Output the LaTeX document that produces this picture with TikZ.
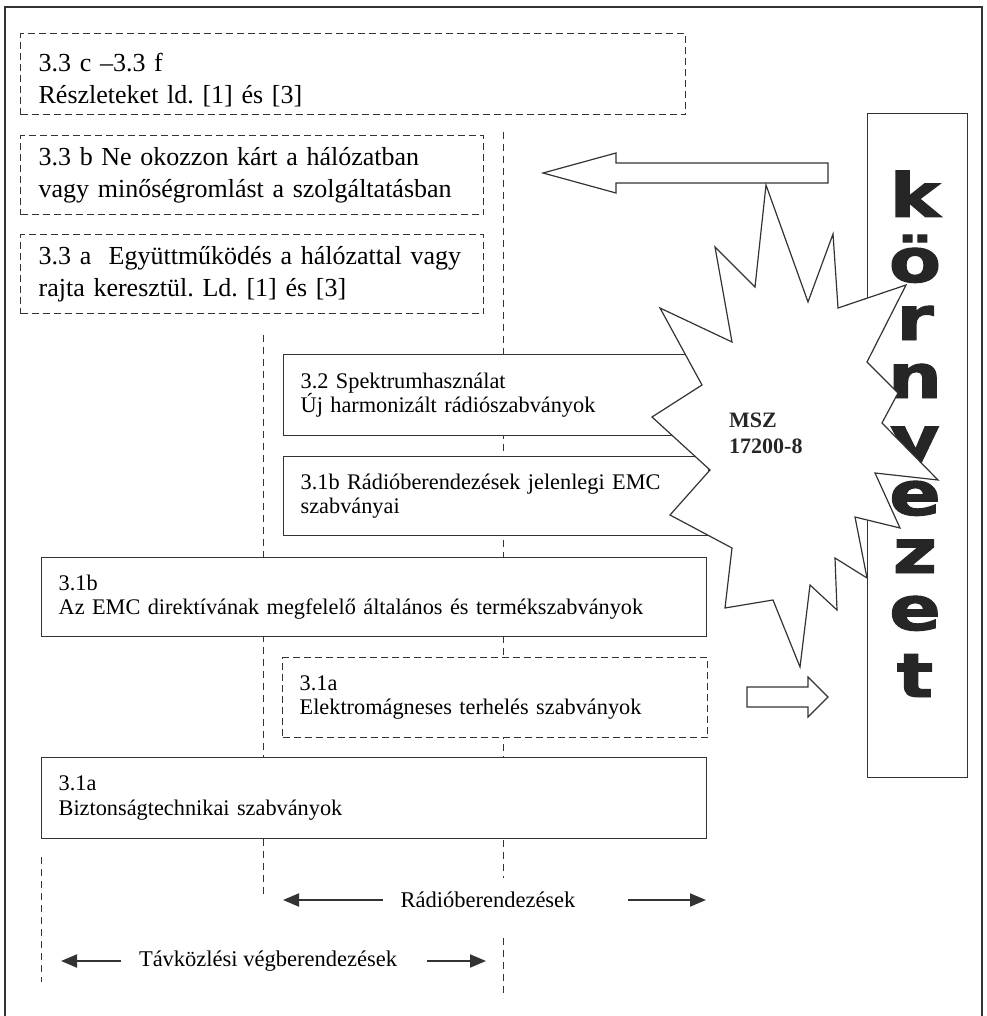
\documentclass[tikz,border=0pt]{standalone}
\usepackage{fontspec}
\usepackage{graphicx}
\setmainfont{Liberation Serif}
\newfontfamily\envfont{DejaVu Sans}[BoldFeatures={FakeBold=1.6}]
\usetikzlibrary{arrows.meta}
\frenchspacing

\def\burst{(766,185) -- (808,302) -- (833,234) -- (838,308) -- (906,285) -- (867,362)
  -- (898,393) -- (882,423) -- (938,480) -- (875,473) -- (900,528) -- (855,517)
  -- (867,578) -- (835,558) -- (837,610) -- (810,585) -- (800,667) -- (773,600)
  -- (725,608) -- (732,548) -- (670,515) -- (710,470) -- (652,417) -- (702,385)
  -- (660,308) -- (732,342) -- (715,247) -- (755,287) -- cycle}
\def\bigarrow{(828,163) -- (616,163) -- (616,153) -- (543,173) -- (616,193) -- (616,183) -- (828,183) -- cycle}
\def\smallarrow{(747,687) -- (808,687) -- (808,677) -- (828,697) -- (808,717) -- (808,707) -- (747,707) -- cycle}

\tikzset{
  guide/.style={draw=black!80, line width=1pt, dash pattern=on 7pt off 5pt},
  solidbox/.style={draw=black!80, line width=1.3pt, fill=white, anchor=north west, align=left, inner ysep=2pt},
  dashbox/.style={solidbox, dash pattern=on 7pt off 4pt},
  largetxt/.style={font=\fontsize{26}{32}\selectfont, inner xsep=18pt},
  smalltxt/.style={font=\fontsize{22.3}{24.5}\selectfont, inner xsep=17pt},
  envletter/.style={anchor=base, inner sep=0pt, text=black!85, font=\envfont\bfseries\fontsize{61}{61}\selectfont},
  sidelabel/.style={inner sep=0pt, font=\fontsize{22.5}{24}\selectfont},
  harrow/.style={draw=black!80, line width=2pt, -{Triangle[length=16pt,width=13pt]}},
}

\begin{document}
\begin{tikzpicture}[x=1pt, y=-1pt]
    \useasboundingbox (0,0) rectangle (986,1016);

    % outer frame, open at the bottom
    \draw[draw=black!80, line width=1.3pt] (5,1016) -- (5,7) -- (982,7) -- (982,1016);

    % dashed guide lines, the boxes are drawn over them
    \draw[guide] (503,132) -- (503,878) (503,938) -- (503,998);
    \draw[guide] (263,335) -- (263,895);
    \draw[guide] (41,857) -- (41,982);

    % 3.3 requirements
    \node[dashbox, largetxt, text width=629pt, minimum height=81pt] (detail) at (20,33)
      {\rule{0pt}{30pt}3.3 c –3.3 f\\Részleteket ld. [1] és [3]};
    \node[dashbox, largetxt, text width=427pt, minimum height=79pt] (harm) at (20,135)
      {3.3 b Ne okozzon kárt a hálózatban\\vagy minőségromlást a szolgáltatásban};
    \node[dashbox, largetxt, text width=427pt, minimum height=79pt] (interop) at (20,234)
      {\mbox{3.3 a\ \ Együttműködés a hálózattal vagy}\\rajta keresztül. Ld. [1] és [3]};

    % 3.2 and 3.1 standards
    \node[solidbox, smalltxt, text width=391pt, minimum height=81pt] (spectrum) at (283,354)
      {3.2 Spektrumhasználat\\Új harmonizált rádiószabványok};
    \node[solidbox, smalltxt, text width=391pt, minimum height=79pt] (radioemc) at (283,456)
      {3.1b Rádióberendezések jelenlegi EMC\\szabványai};
    \node[solidbox, smalltxt, text width=631pt, minimum height=79pt] (emcdir) at (41,557)
      {3.1b\\Az EMC direktívának megfelelő általános és termékszabványok};
    \node[dashbox, smalltxt, text width=391pt, minimum height=80pt] (emload) at (282,657)
      {3.1a\\Elektromágneses terhelés szabványok};
    \node[solidbox, smalltxt, text width=631pt, minimum height=81pt] (safety) at (41,757)
      {3.1a\\Biztonságtechnikai szabványok};

    % the environment column
    \node[draw=black!80, line width=1.3pt, anchor=north west, inner sep=0pt,
          minimum width=100pt, minimum height=664pt] (env) at (867,113) {};
    \foreach \ch/\yb in {k/217, ö/282, r/340, n/398, y/460, e/515, z/573, e/630, t/697}
      \node[envletter] (env-\yb) at (915,\yb) {\scalebox{1.25}[1]{\ch}};

    % the star covers part of the letters
    \filldraw[fill=white, draw=black!80, line width=1.2pt, line join=miter] \burst;
    \node[inner sep=0pt, anchor=west, align=left, text=black!85,
          font=\bfseries\fontsize{22}{26}\selectfont] (msz) at (729,433) {MSZ\\17200-8};

    \draw[draw=black!80, line width=1.2pt] \bigarrow;
    \draw[draw=black!80, line width=1.2pt] \smallarrow;

    % scope arrows at the bottom
    \node[sidelabel] (radio) at (488,900) {Rádióberendezések};
    \coordinate (radioL) at (283,900);
    \coordinate (radioR) at (706,900);
    \draw[harrow] ([xshift=-17pt]radio.west) -- (radioL);
    \draw[harrow] ([xshift=52pt]radio.east) -- (radioR);

    \node[sidelabel] (telecom) at (268,961) {Távközlési végberendezések};
    \coordinate (telL) at (61,961);
    \coordinate (telR) at (486,961);
    \draw[harrow] ([xshift=-18pt]telecom.west) -- (telL);
    \draw[harrow] ([xshift=30pt]telecom.east) -- (telR);

\end{tikzpicture}
\end{document}
